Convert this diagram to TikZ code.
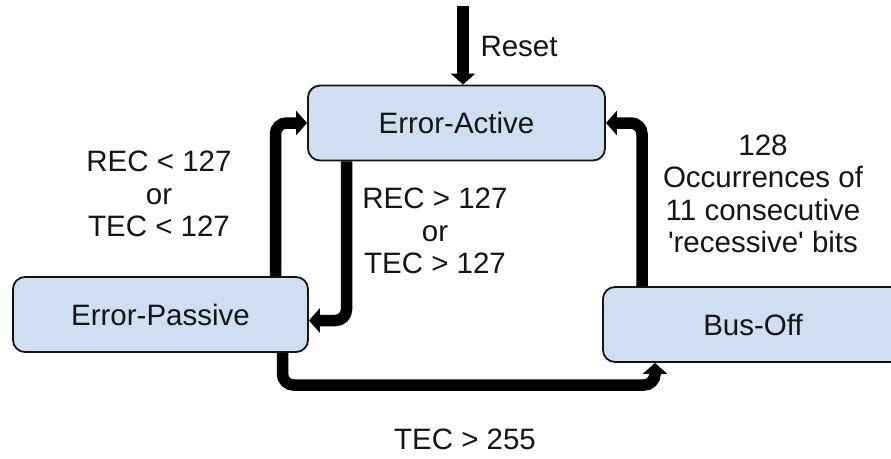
\documentclass[tikz,border=0pt]{standalone}
\usepackage{fontspec}
\setmainfont{Liberation Sans}
\usetikzlibrary{arrows.meta}
\definecolor{statefill}{HTML}{CFDFF1}
\definecolor{inkcol}{HTML}{151515}
\begin{document}
\begin{tikzpicture}[x=1pt,y=-1pt,
  every node/.style={font=\fontsize{29.5}{32.5}\selectfont, text=inkcol},
  state/.style={draw=inkcol, line width=1.8pt, fill=statefill,
    rounded corners=12pt, minimum height=75pt, inner sep=0pt},
  flow/.style={line width=11.5pt, rounded corners=11pt,
    -{Triangle[width=24pt,length=11pt]}},
  cond/.style={align=center}]
  \useasboundingbox (0,0) rectangle (891,458);

  % states
  \node[state, minimum width=297pt] (ea) at (456.5,123) {Error-Active};
  \node[state, minimum width=295pt] (ep) at (160.5,314.5) {Error-Passive};
  \node[state, minimum width=300pt] (bo) at (753,324.5) {Bus-Off};

  % reset entry
  \coordinate (rst) at (463,6);
  \draw[flow] (rst) -- (rst |- ea.north);
  \node[anchor=west] (rstlbl) at (477,46) {Reset};

  % transitions
  \draw[flow] ([xshift=115pt]ep.north) |- (ea.west);
  \draw[flow] ([xshift=-110pt]ea.south) |- ([yshift=-6pt]ep.east);
  \coordinate (low) at (0,385);
  \draw[flow] ([xshift=122pt]ep.south) |- ([xshift=-98pt]bo.south |- low)
     -- ([xshift=-98pt]bo.south);
  \draw[flow] ([xshift=-111pt]bo.north) |- (ea.east);

  % transition conditions
  \node[cond] (c1) at (159,194) {REC < 127\\or\\TEC < 127};
  \node[cond] (c2) at (435,231) {REC > 127\\or\\TEC > 127};
  \node[cond] (c3) at (763,194) {128\\Occurrences of\\11 consecutive\\\textquotesingle recessive\textquotesingle{} bits};
  \node (c4) at (465,439) {TEC > 255};
\end{tikzpicture}
\end{document}
